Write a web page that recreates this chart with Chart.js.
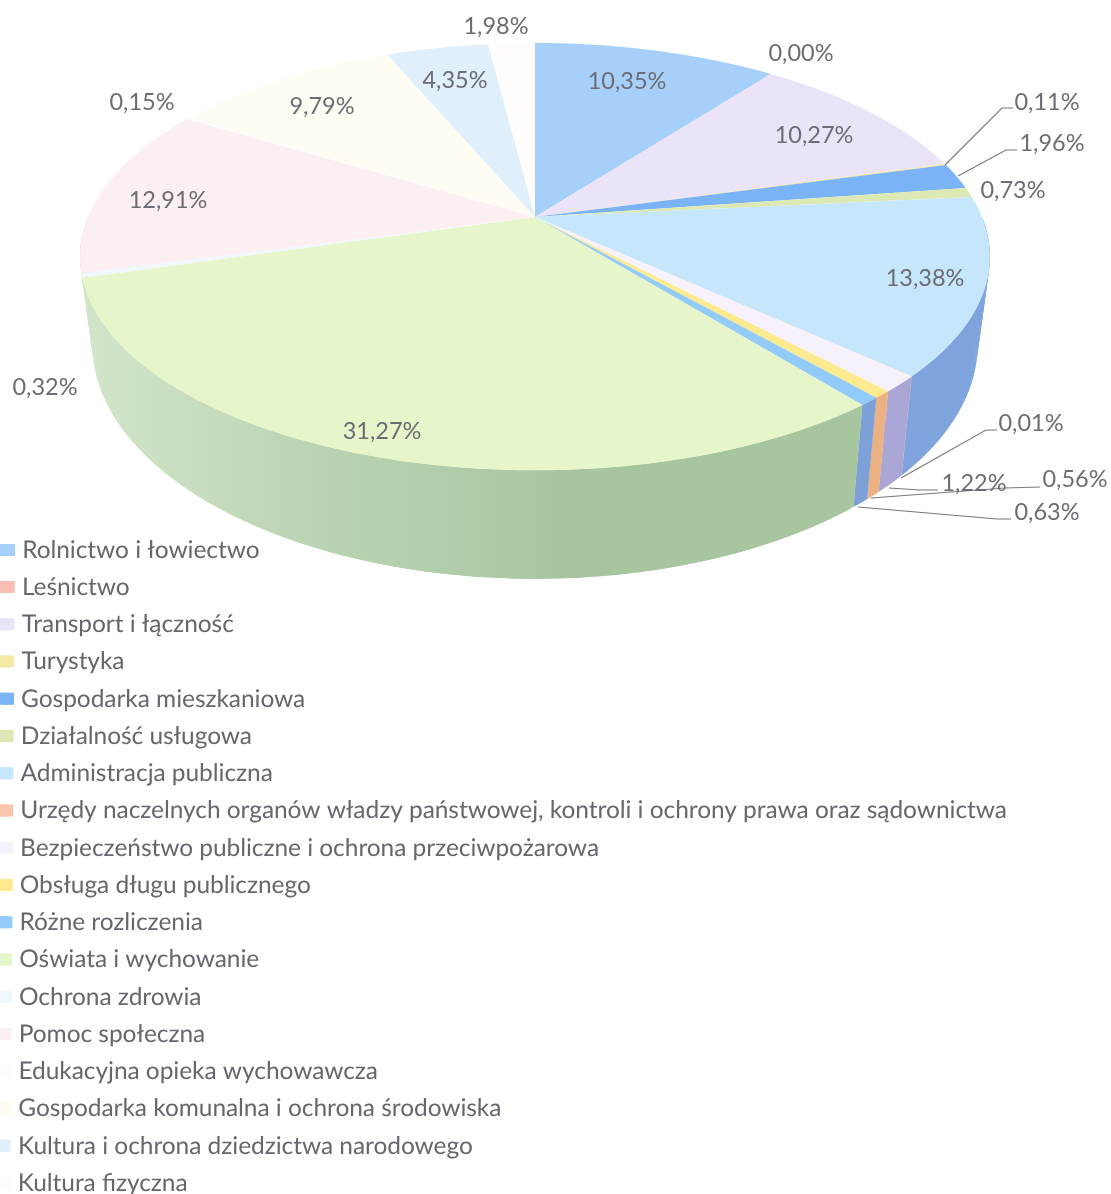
<!DOCTYPE html>
<html lang="pl"><head><meta charset="utf-8">
<style>html,body{margin:0;padding:0;background:#fff}canvas{display:block}</style>
<script src="https://cdn.jsdelivr.net/npm/chart.js@4"></script></head>
<body><canvas id="c" width="1111" height="1194"></canvas>
<script>
const categories = ["Rolnictwo i łowiectwo","Leśnictwo","Transport i łączność","Turystyka","Gospodarka mieszkaniowa","Działalność usługowa","Administracja publiczna","Urzędy naczelnych organów władzy państwowej, kontroli i ochrony prawa oraz sądownictwa","Bezpieczeństwo publiczne i ochrona przeciwpożarowa","Obsługa długu publicznego","Różne rozliczenia","Oświata i wychowanie","Ochrona zdrowia","Pomoc społeczna","Edukacyjna opieka wychowawcza","Gospodarka komunalna i ochrona środowiska","Kultura i ochrona dziedzictwa narodowego","Kultura fizyczna"];
const shares = [10.35,0.00,10.27,0.11,1.96,0.73,13.38,0.01,1.22,0.56,0.63,31.27,0.32,12.91,0.15,9.79,4.35,1.98];
const topColors = ["#a6d0f9","#f9bdb4","#ebe3f7","#f5e9a8","#7ab4f6","#dde9b4","#c6e6fb","#f9c5ab","#f6f1fb","#fde98e","#92caf9","#e7f5ca","#f0f8fb","#fbeff2","#fdfdfd","#fffcf3","#dfeffc","#fefdfb"];
const sideColors = ["#7ba3dc","#e09a90","#a9a8d6","#c9bf80","#6f97d8","#b0c58e","#7fa4dd","#e3a684","#aaa7d6","#ebb182","#7ea0d9","#a7c6a0","#a7c6a0","#a7c6a0","#d8d8d8","#ddd8c8","#b8cbe0","#d8d6d0"];
const valueLabels = ["10,35%","0,00%","10,27%","0,11%","1,96%","0,73%","13,38%","0,01%","1,22%","0,56%","0,63%","31,27%","0,32%","12,91%","0,15%","9,79%","4,35%","1,98%"];
const labelPlaces = [[627,81],[801,53],[814,135],[1047,102],[1052,143],[1013,190],[925,278],[1031,423],[974,483],[1075,479],[1047,512],[382,431],[45,387],[168,200],[142,102],[322,106],[455,80],[496,26]];
const leaderLines = [[[945,165],[1002,108],[1013,108]],[[958,176],[1006,150],[1017,150]],[[901,478],[986,430],[997,430]],[[889,488],[920,490],[938,490]],[[871,498],[1005,488],[1040,487]],[[858,507],[997,519],[1011,519]]];

const topView = {cx:535, cy:217, rx:447, ry:206.3, k:0.1856};
const baseView = {cx:535, cy:300, rx:435, ry:227, k:0.1856};
const legendShear = -0.0071;
const legendShift = [-11, 14];
function project(view, a){
  const u=Math.cos(a), v=Math.sin(a), d=1-view.k*v;
  return [view.cx+view.rx*u/d, view.cy+view.ry*v/d];
}
function arcPts(view,a0,a1){
  const n=Math.max(2,Math.ceil(Math.abs(a1-a0)/0.01)), pts=[];
  for(let i=0;i<=n;i++) pts.push(project(view,a0+(a1-a0)*i/n));
  return pts;
}
function fillPoly(ctx,pts,fill){
  ctx.beginPath(); pts.forEach((p,i)=>i?ctx.lineTo(p[0],p[1]):ctx.moveTo(p[0],p[1]));
  ctx.closePath(); ctx.fillStyle=fill; ctx.fill();
}
function mix(hex,to,t){
  const p=h=>[1,3,5].map(i=>parseInt(h.slice(i,i+2),16));
  const a=p(hex), b=p(to);
  return 'rgb('+a.map((c,i)=>Math.round(c+(b[i]-c)*t)).join(',')+')';
}
const pie3d = {
  id:'pie3d',
  afterLayout(chart){
    const l=chart.legend;
    if(l._sheared) return;
    l._sheared=true;
    const draw=l.draw;
    l.draw=function(){
      const c=chart.ctx;
      c.save();
      c.transform(1,0,legendShear,1,legendShift[0],legendShift[1]);
      draw.call(l);
      l.legendHitBoxes.forEach((hit,i)=>{
        c.fillStyle=topColors[i];
        c.fillRect(hit.left+5,hit.top+(hit.height-12)/2,12,12);
      });
      c.restore();
    };
  },
  beforeDatasetDraw(chart,args){
    const ctx=chart.ctx, arcs=chart.getDatasetMeta(args.index).data;
    ctx.save();
    arcs.forEach((el,i)=>{
      const a0=Math.max(el.startAngle,0), a1=Math.min(el.endAngle,Math.PI);
      if(a1<=a0) return;
      const g=ctx.createLinearGradient(85,0,560,0);
      g.addColorStop(0,mix(sideColors[i],'#eef8e2',.62));
      g.addColorStop(.45,mix(sideColors[i],'#eef8e2',.3));
      g.addColorStop(1,sideColors[i]);
      const t=arcPts(topView,a0,a1), b=arcPts(baseView,a0,a1);
      for(let j=0;j<t.length-1;j++){
        const e=Math.min(j+2,t.length-1);
        fillPoly(ctx,[t[j],t[e],b[e],b[j]],g);
      }
    });
    arcs.forEach((el,i)=>{
      if(el.endAngle-el.startAngle<1e-4) return;
      const poly=[[topView.cx,topView.cy]].concat(arcPts(topView,el.startAngle,el.endAngle));
      fillPoly(ctx,poly,topColors[i]);
    });
    ctx.restore();
    return false;
  },
  afterDraw(chart){
    const ctx=chart.ctx;
    ctx.save();
    ctx.strokeStyle='#77777c'; ctx.lineWidth=1.1;
    leaderLines.forEach(line=>{
      ctx.beginPath(); line.forEach((p,i)=>i?ctx.lineTo(p[0],p[1]):ctx.moveTo(p[0],p[1])); ctx.stroke();
    });
    ctx.font='23.5px Lato'; ctx.textAlign='center'; ctx.textBaseline='middle'; ctx.fillStyle='#6c6c74';
    valueLabels.forEach((t,i)=>ctx.fillText(t,labelPlaces[i][0],labelPlaces[i][1]));
    ctx.restore();
  }
};
new Chart(document.getElementById('c'),{
  type:'pie',
  data:{labels:categories,datasets:[{data:shares,backgroundColor:topColors,borderWidth:0}]},
  plugins:[pie3d],
  options:{
    responsive:false,animation:false,
    layout:{padding:0},
    plugins:{
      tooltip:{enabled:false},
      legend:{display:true,position:'left',align:'end',maxWidth:1100,
        labels:{boxWidth:12,boxHeight:12,padding:12.84,color:'#66666e',font:{family:'Lato',size:24.4}}}
    }
  }
});
</script></body></html>
